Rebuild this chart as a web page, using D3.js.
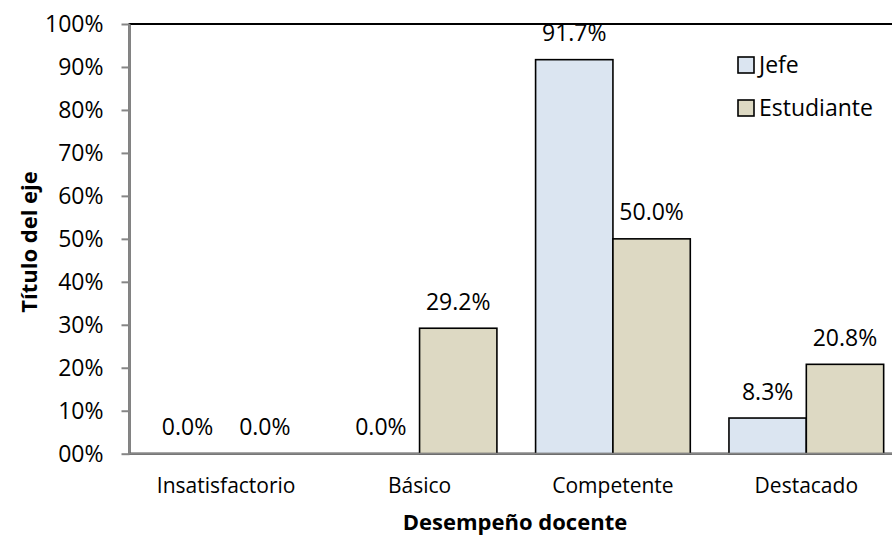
<!DOCTYPE html>
<html>
<head>
<meta charset="utf-8">
<script src="https://cdn.jsdelivr.net/npm/d3@7"></script>
<style>
  html, body { margin: 0; padding: 0; background: #fff; }
  svg { display: block; }
  text { font-family: "Open Sans", "Noto Sans", sans-serif; fill: #000; }
</style>
</head>
<body>
<svg id="chart" width="892" height="537"></svg>
<script>
const categories = ["Insatisfactorio", "Básico", "Competente", "Destacado"];
const seriesNames = ["Jefe", "Estudiante"];
const jefeValues = [0.0, 0.0, 0.917, 0.083];
const estudianteValues = [0.0, 0.292, 0.500, 0.208];
const tickValues = [0, 0.1, 0.2, 0.3, 0.4, 0.5, 0.6, 0.7, 0.8, 0.9, 1.0];
const tickLabels = ["00%", "10%", "20%", "30%", "40%", "50%", "60%", "70%", "80%", "90%", "100%"];
const seriesColors = ["#DBE5F1", "#DDD9C3"];
const yAxisTitle = "Título del eje";
const xAxisTitle = "Desempeño docente";

const seriesValues = [jefeValues, estudianteValues];

const svg = d3.select("#chart");
const plot = { left: 129.5, right: 903, top: 24, bottom: 453.7 };

const x = d3.scaleBand().domain(categories).range([plot.left, plot.right])
  .paddingInner(0.2).paddingOuter(0.1);
const xs = d3.scaleBand().domain(seriesNames).range([0, x.bandwidth()]);
const y = d3.scaleLinear().domain([0, 1]).range([plot.bottom, plot.top]);
const color = d3.scaleOrdinal().domain(seriesNames).range(seriesColors);

// plot area border (top visible)
svg.append("rect")
  .attr("x", plot.left).attr("y", plot.top)
  .attr("width", plot.right - plot.left).attr("height", plot.bottom - plot.top)
  .attr("fill", "none").attr("stroke", "#000").attr("stroke-width", 2);

// bars
const rows = [];
categories.forEach((c, i) => {
  seriesNames.forEach((s, j) => rows.push({ cat: c, series: s, value: seriesValues[j][i] }));
});

svg.append("g").selectAll("rect").data(rows.filter(d => d.value > 0)).join("rect")
  .attr("x", d => x(d.cat) + xs(d.series))
  .attr("y", d => y(d.value))
  .attr("width", xs.bandwidth())
  .attr("height", d => y(0) - y(d.value))
  .attr("fill", d => color(d.series))
  .attr("stroke", "#000").attr("stroke-width", 1.6);

// y axis
const yAxis = d3.axisLeft(y).tickValues(tickValues)
  .tickFormat((d, i) => tickLabels[i]).tickSize(8).tickPadding(18);
const gy = svg.append("g").attr("transform", `translate(${plot.left},0)`).call(yAxis);
gy.select(".domain").attr("stroke", "#868686").attr("stroke-width", 2).attr("d", `M0,${plot.top}V${plot.bottom}`);
gy.selectAll(".tick line").attr("stroke", "#868686").attr("stroke-width", 2);
gy.selectAll(".tick text").style("font-size", "23px").style("font-family", "'Open Sans', sans-serif").attr("fill", "#000");

// x axis
const xAxis = d3.axisBottom(x).tickSize(0).tickPadding(0);
const gx = svg.append("g").attr("transform", `translate(0,${plot.bottom})`).call(xAxis);
gx.select(".domain").attr("stroke", "#868686").attr("stroke-width", 2).attr("d", `M${plot.left - 1},0H${plot.right}`);
gx.selectAll(".tick text").style("font-size", "21px").style("font-family", "'Open Sans', sans-serif")
  .attr("fill", "#000").attr("dy", null).attr("y", 39);

// value labels
svg.append("g").selectAll("text").data(rows).join("text")
  .attr("x", d => x(d.cat) + xs(d.series) + xs.bandwidth() / 2)
  .attr("y", d => y(d.value) - 18.5)
  .attr("text-anchor", "middle")
  .style("font-size", "23px")
  .text(d => d3.format(".1%")(d.value));

// legend
const legend = svg.append("g").attr("transform", "translate(738,57)");
seriesNames.forEach((s, i) => {
  const g = legend.append("g").attr("transform", `translate(0,${i * 43})`);
  g.append("rect").attr("width", 16).attr("height", 16)
    .attr("fill", color(s)).attr("stroke", "#000").attr("stroke-width", 1.6);
  g.append("text").attr("x", 21).attr("y", 15.5).style("font-size", "23px").text(s);
});

// axis titles
svg.append("text")
  .attr("transform", `translate(37,242) rotate(-90)`)
  .attr("text-anchor", "middle")
  .style("font-size", "22px").style("font-weight", "bold")
  .text(yAxisTitle);

svg.append("text")
  .attr("x", 515).attr("y", 530)
  .attr("text-anchor", "middle")
  .style("font-size", "22px").style("font-weight", "bold")
  .text(xAxisTitle);
</script>
</body>
</html>
